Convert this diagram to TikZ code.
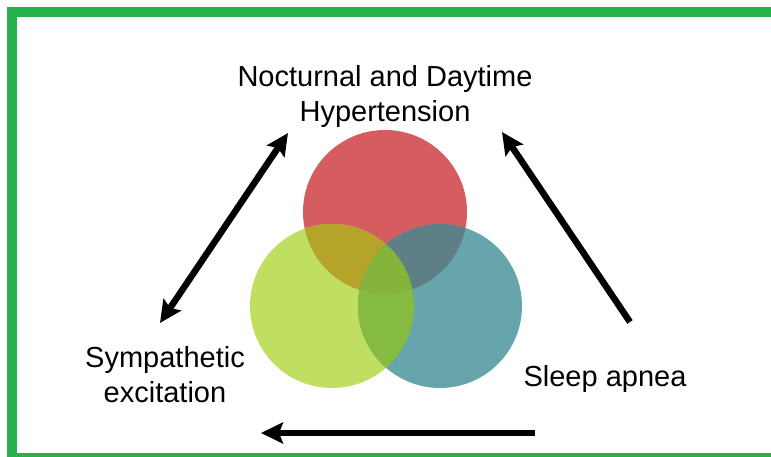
\documentclass[tikz,border=0pt]{standalone}
\usepackage{fontspec}
\setmainfont{Liberation Sans}
\usetikzlibrary{arrows.meta}

\definecolor{frameGreen}{HTML}{23B24C}
\definecolor{vRed}{HTML}{D65D5F}
\definecolor{vLime}{HTML}{C0DE60}
\definecolor{vTeal}{HTML}{67A5AC}
\definecolor{vOlive}{HTML}{B5A32A}
\definecolor{vSlate}{HTML}{5E7F85}
\definecolor{vLeaf}{HTML}{85BB40}
\definecolor{vCore}{HTML}{84B43B}

\tikzset{
  label text/.style={font=\fontsize{29}{35}\selectfont, align=center, inner sep=0pt, text=black},
  fat arrow/.style={line width=6.5pt, draw=black,
    arrows={-Stealth[length=22pt,width=21pt,inset=4pt]}},
  fat double arrow/.style={line width=6.5pt, draw=black,
    arrows={Stealth[length=22pt,width=21pt,inset=4pt]-Stealth[length=22pt,width=21pt,inset=4pt]}},
}

\begin{document}
\begin{tikzpicture}[x=1pt, y=-1pt]
  \clip (0,0) rectangle (771,457);
  \fill[white] (0,0) rectangle (771,457);

  % outer frame (right and bottom sides run past the page edge)
  \draw[frameGreen, line width=10pt] (12,12) rectangle (776.2,458);

  % circle centres
  \def\R{82}
  \coordinate (cRed)  at (385,212);
  \coordinate (cLime) at (332,306);
  \coordinate (cTeal) at (440,306);

  % base discs
  \fill[vRed]  (cRed)  circle (\R);
  \fill[vLime] (cLime) circle (\R);
  \fill[vTeal] (cTeal) circle (\R);

  % pairwise overlaps
  \begin{scope}
    \clip (cRed) circle (\R);
    \fill[vOlive] (cLime) circle (\R);
  \end{scope}
  \begin{scope}
    \clip (cRed) circle (\R);
    \fill[vSlate] (cTeal) circle (\R);
  \end{scope}
  \begin{scope}
    \clip (cLime) circle (\R);
    \fill[vLeaf] (cTeal) circle (\R);
  \end{scope}
  % triple overlap
  \begin{scope}
    \clip (cRed) circle (\R);
    \clip (cLime) circle (\R);
    \fill[vCore] (cTeal) circle (\R);
  \end{scope}

  % labels
  \node[label text] (hyper) at (385,97) {Nocturnal and Daytime\\Hypertension};
  \node[label text] (symp)  at (165,375) {Sympathetic\\excitation};
  \node[label text, anchor=base] (apnea) at (605,386) {Sleep apnea};

  % arrow end points
  \coordinate (sympTop)  at (160,323);
  \coordinate (hyperL)   at (288,133);
  \coordinate (apneaTop) at (630,322);
  \coordinate (hyperR)   at (502,132);
  \coordinate (apneaLow) at (535,433);
  \coordinate (sympLow)  at (261,433);

  % arrows
  \draw[fat double arrow] (sympTop) -- (hyperL);
  \draw[fat arrow] (apneaTop) -- (hyperR);
  \draw[fat arrow] (apneaLow) -- (sympLow);
\end{tikzpicture}
\end{document}
